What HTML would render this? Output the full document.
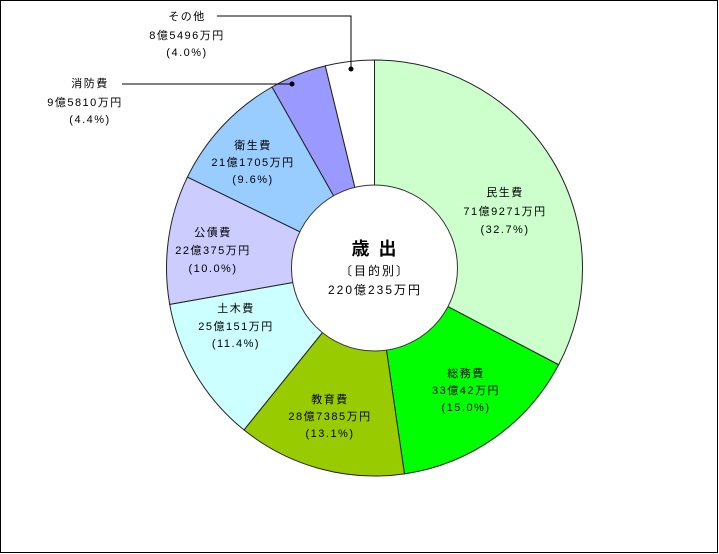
<!DOCTYPE html>
<html><head><meta charset="utf-8"><style>
html,body{margin:0;padding:0;background:#fff}
svg{display:block}
text{font-family:"Liberation Sans","Noto Sans CJK JP",sans-serif;font-size:11px;fill:#000;letter-spacing:1.5px}
</style></head><body>
<svg id="s" width="719" height="554" viewBox="0 0 719 554" xmlns="http://www.w3.org/2000/svg">
<rect x="0.5" y="0.5" width="717" height="552" fill="#fff" stroke="#000"/>
<g id="slices"></g>
<circle cx="374.5" cy="268" r="83" fill="#fff" stroke="#333" stroke-width="1"/>
<text x="375" y="255" text-anchor="middle" style="font-size:18px;font-weight:bold;letter-spacing:2px">歳 出</text>
<text x="375" y="275" text-anchor="middle" style="font-size:12px;letter-spacing:2px">〔目的別〕</text>
<text x="375" y="294" text-anchor="middle" style="font-size:12px;letter-spacing:2px">220億235万円</text>

<g text-anchor="middle">
<text x="505" y="196">民生費</text><text x="505" y="215">71億9271万円</text><text x="505" y="233">(32.7%)</text>
<text x="466" y="377">総務費</text><text x="466" y="394">33億42万円</text><text x="466" y="411">(15.0%)</text>
<text x="330" y="403">教育費</text><text x="330" y="420">28億7385万円</text><text x="330" y="437">(13.1%)</text>
<text x="236" y="312">土木費</text><text x="236" y="330">25億151万円</text><text x="236" y="347">(11.4%)</text>
<text x="213" y="236">公債費</text><text x="213" y="254">22億375万円</text><text x="213" y="272">(10.0%)</text>
<text x="253" y="149">衛生費</text><text x="253" y="166">21億1705万円</text><text x="253" y="183">(9.6%)</text>
<text x="187" y="20">その他</text><text x="187" y="39">8億5496万円</text><text x="187" y="56">(4.0%)</text>
<text x="90" y="87">消防費</text><text x="85" y="106">9億5810万円</text><text x="90" y="123">(4.4%)</text>
</g>
<polyline points="217,16 351,16 351,69" fill="none" stroke="#000"/>
<circle cx="351" cy="69" r="2.5" fill="#000"/>
<polyline points="122,84 292,84" fill="none" stroke="#000"/>
<circle cx="292" cy="84" r="2.5" fill="#000"/>
</svg>
<script>
var cx=374.5,cy=268,R=208,r=83;
var d=[[32.7,"#CCFFCC"],[15.0,"#00FF00"],[13.1,"#99CC00"],[11.4,"#CCFFFF"],[10.0,"#CCCCFF"],[9.6,"#99CCFF"],[4.4,"#9999FF"],[3.8,"#FFFFFF"]];
var g=document.getElementById("slices"),a=0,h="";
function p(t,rr){var x=cx+rr*Math.sin(t),y=cy-rr*Math.cos(t);return x.toFixed(2)+","+y.toFixed(2);}
d.forEach(function(s){var b=a+s[0]/100*2*Math.PI;var lg=(b-a)>Math.PI?1:0;
h+='<path d="M'+p(a,R)+' A'+R+','+R+' 0 '+lg+' 1 '+p(b,R)+' L'+cx+','+cy+' Z" fill="'+s[1]+'" stroke="#222" stroke-width="1"/>';a=b;});
g.innerHTML=h;
</script>
</body></html>
